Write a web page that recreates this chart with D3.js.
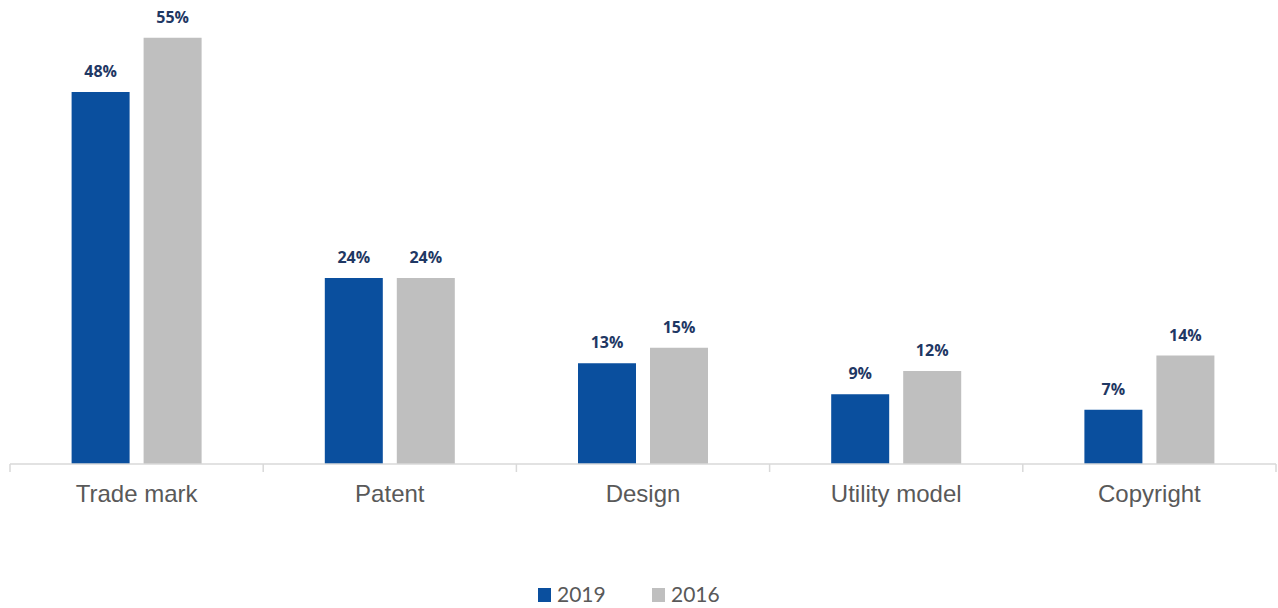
<!DOCTYPE html>
<html><head><meta charset="utf-8">
<script src="https://cdn.jsdelivr.net/npm/d3@7"></script>
<style>body{margin:0;background:#fff}svg{display:block}</style>
</head><body>
<svg id="c" width="1278" height="608"></svg>
<script>
const categories = ["Trade mark","Patent","Design","Utility model","Copyright"];
const seriesNames = ["2019","2016"];
const values2019 = [48,24,13,9,7];
const values2016 = [55,24,15,12,14];
const colors = ["#0A4F9E","#BFBFBF"];

const svg = d3.select("#c");
const left = 10, right = 1276, base = 464;
const x = d3.scaleBand().domain(categories).range([left,right]).paddingInner(0).paddingOuter(0);
const y = d3.scaleLinear().domain([0,60]).range([base, base - 60*7.75]);
const barW = 58, gap = 14;
const data = [values2019, values2016];

// bars
data.forEach((vals,si)=>{
  const g = svg.append("g");
  categories.forEach((c,i)=>{
    const cx = x(c) + x.bandwidth()/2;
    const bx = si===0 ? cx - gap/2 - barW : cx + gap/2;
    g.append("rect").attr("x",bx).attr("y",y(vals[i])).attr("width",barW)
      .attr("height",base - y(vals[i])).attr("fill",colors[si]);
    g.append("text").attr("x",bx+barW/2).attr("y",y(vals[i])-15)
      .attr("text-anchor","middle").attr("font-family","'Open Sans', sans-serif")
      .attr("font-weight","bold").attr("font-size","16px").attr("fill","#1F3864")
      .text(vals[i]+"%");
  });
});

// axis
const axis = d3.axisBottom(x).tickSize(0).tickPadding(0);
const ag = svg.append("g").attr("transform",`translate(0,${base})`).call(axis);
ag.select(".domain").attr("stroke","#D9D9D9").attr("stroke-width",1.5).attr("d",`M${left},0H${right}`);
ag.selectAll(".tick text").attr("y",38).attr("dy",0)
  .attr("font-family","'Liberation Sans', Arial, sans-serif").attr("font-size","24px").attr("fill","#595959");
const bounds = [left, ...categories.map(c=>x(c)+x.bandwidth())];
svg.append("g").selectAll("line").data(bounds).join("line")
  .attr("x1",d=>d).attr("x2",d=>d).attr("y1",base).attr("y2",base+8)
  .attr("stroke","#D9D9D9").attr("stroke-width",1.5);

// legend
const legendX = [538, 652];
const lg = svg.append("g");
seriesNames.forEach((s,i)=>{
  lg.append("rect").attr("x",legendX[i]).attr("y",588).attr("width",13).attr("height",14).attr("fill",colors[i]);
  lg.append("text").attr("x",legendX[i]+19).attr("y",602).attr("font-family","Lato, 'Open Sans', sans-serif")
    .attr("font-size","21px").attr("fill","#595959").text(s);
});
</script>
</body></html>
